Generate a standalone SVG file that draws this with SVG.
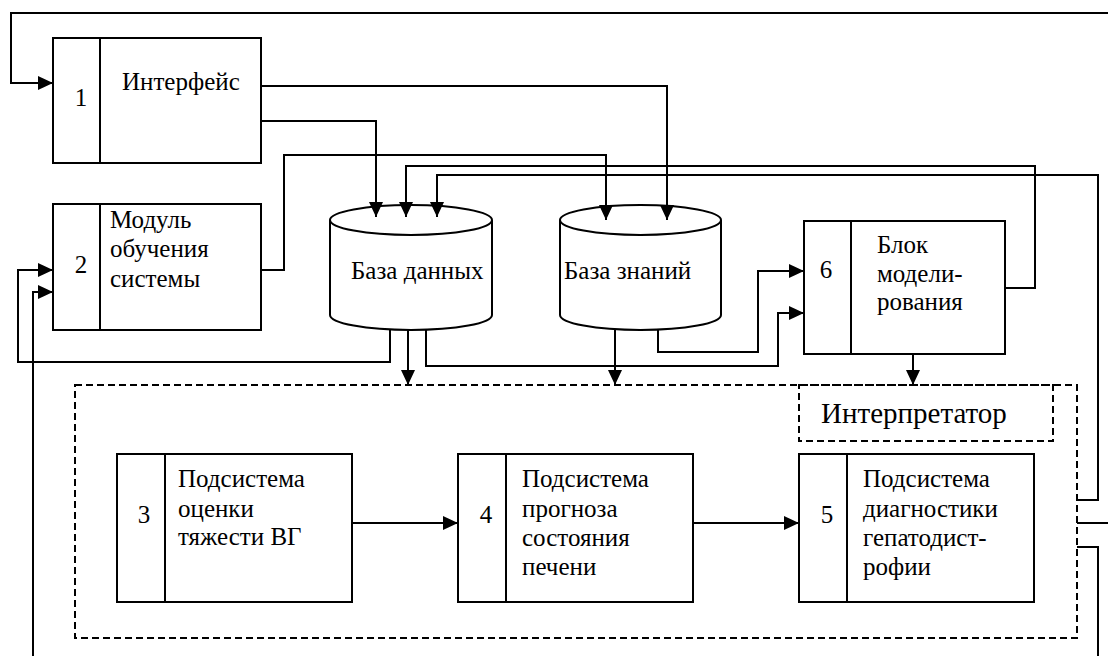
<svg xmlns="http://www.w3.org/2000/svg" width="1108" height="656" viewBox="0 0 1108 656">
<defs>
<marker id="arr" markerUnits="userSpaceOnUse" markerWidth="16" markerHeight="14" refX="15" refY="7" orient="auto">
<path d="M0,0 L15,7 L0,14 z" fill="#000"/>
</marker>
<style>
.box{fill:#fff;stroke:#000;stroke-width:2}
.div{stroke:#000;stroke-width:2}
.dash{fill:none;stroke:#000;stroke-width:2;stroke-dasharray:7,4}
.ln{fill:none;stroke:#000;stroke-width:2}
.ar{fill:none;stroke:#000;stroke-width:2;marker-end:url(#arr)}
text{font-family:'Liberation Serif','DejaVu Serif','Times New Roman',serif;font-size:25px;fill:#000}
.n{text-anchor:middle}
.big{font-size:29px}
</style>
</defs>
<rect width="1108" height="656" fill="#fff"/>

<g id="interpreter">
<rect class="dash" x="75" y="385" width="1002" height="253"/>
<rect class="dash" x="799" y="385" width="254" height="56"/>
<text class="big" x="821" y="423">Интерпретатор</text>
</g>

<g id="node1">
<rect class="box" x="53" y="38" width="208" height="125"/>
<line class="div" x1="100" y1="38" x2="100" y2="163"/>
<text class="n" x="81" y="106">1</text>
<text x="122" y="90">Интерфейс</text>
</g>

<g id="node2">
<rect class="box" x="53" y="204" width="208" height="126"/>
<line class="div" x1="100" y1="204" x2="100" y2="330"/>
<text class="n" x="81" y="273">2</text>
<text x="110" y="228">Модуль</text>
<text x="110" y="257">обучения</text>
<text x="110" y="287">системы</text>
</g>

<g id="db">
<path class="box" d="M330,220 L330,315 A81,15 0 0 0 492,315 L492,220"/>
<ellipse class="box" cx="411" cy="220" rx="81" ry="15"/>
<text x="351" y="279">База данных</text>
</g>

<g id="kb">
<path class="box" d="M560,220 L560,315 A80.5,15 0 0 0 721,315 L721,220"/>
<ellipse class="box" cx="640.5" cy="220" rx="80.5" ry="15"/>
<text x="564" y="279">База знаний</text>
</g>

<g id="node6">
<rect class="box" x="804" y="221" width="201" height="133"/>
<line class="div" x1="851" y1="221" x2="851" y2="354"/>
<text class="n" x="826" y="278">6</text>
<text x="877" y="253">Блок</text>
<text x="877" y="282">модели-</text>
<text x="877" y="310">рования</text>
</g>

<g id="node3">
<rect class="box" x="117" y="454" width="235" height="148"/>
<line class="div" x1="165" y1="454" x2="165" y2="602"/>
<text class="n" x="144" y="523">3</text>
<text x="178" y="487">Подсистема</text>
<text x="178" y="517">оценки</text>
<text x="178" y="545">тяжести ВГ</text>
</g>

<g id="node4">
<rect class="box" x="458" y="454" width="235" height="148"/>
<line class="div" x1="506" y1="454" x2="506" y2="602"/>
<text class="n" x="486" y="523">4</text>
<text x="522" y="487">Подсистема</text>
<text x="522" y="517">прогноза</text>
<text x="522" y="546">состояния</text>
<text x="522" y="575">печени</text>
</g>

<g id="node5">
<rect class="box" x="799" y="454" width="235" height="148"/>
<line class="div" x1="847" y1="454" x2="847" y2="602"/>
<text class="n" x="827" y="523">5</text>
<text x="863" y="487">Подсистема</text>
<text x="863" y="517">диагностики</text>
<text x="863" y="546">гепатодист-</text>
<text x="863" y="575">рофии</text>
</g>

<g id="connectors">
<path class="ar" d="M1108,13 L11,13 L11,83 L53,83"/>
<path class="ar" d="M261,86 L667,86 L667,220"/>
<path class="ar" d="M261,121 L376,121 L376,217"/>
<path class="ar" d="M261,270 L284,270 L284,155 L606,155 L606,220"/>
<path class="ar" d="M1005,288 L1035,288 L1035,166 L406,166 L406,217"/>
<path class="ar" d="M1077,500 L1098,500 L1098,175 L437,175 L437,217"/>
<path class="ar" d="M390,329 L390,362 L18,362 L18,270 L53,270"/>
<path class="ar" d="M408,330 L408,385"/>
<path class="ar" d="M426,329 L426,366 L778,366 L778,313 L804,313"/>
<path class="ar" d="M615,330 L615,385"/>
<path class="ar" d="M658,329 L658,352 L758,352 L758,271 L804,271"/>
<path class="ar" d="M913,354 L913,385"/>
<path class="ar" d="M352,523 L458,523"/>
<path class="ar" d="M693,523 L799,523"/>
<path class="ln" d="M1077,523 L1108,523"/>
<path class="ln" d="M1077,547 L1098,547 L1098,656"/>
<path class="ar" d="M33,656 L33,292 L53,292"/>
</g>
</svg>
